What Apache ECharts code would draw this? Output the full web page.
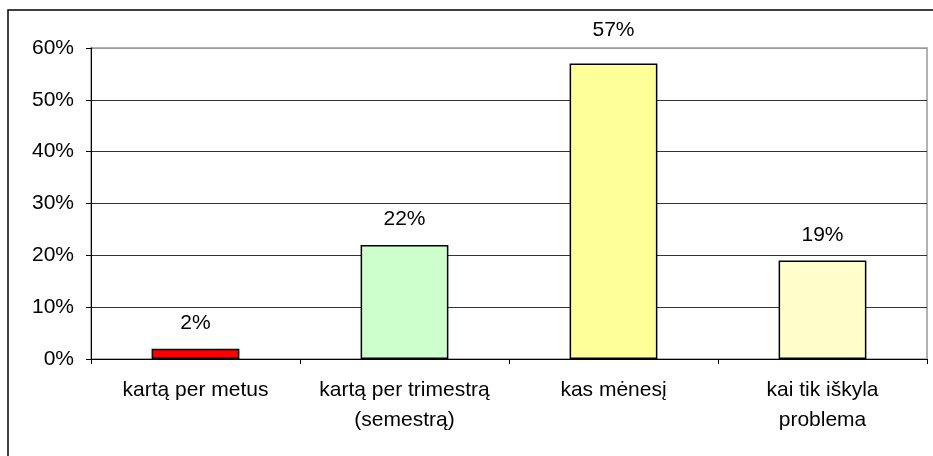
<!DOCTYPE html>
<html>
<head>
<meta charset="utf-8">
<script src="https://cdn.jsdelivr.net/npm/echarts@6/dist/echarts.min.js"></script>
<style>
  html, body { margin: 0; padding: 0; background: #fff; }
  #chart { width: 933px; height: 456px; }
</style>
</head>
<body>
<div id="chart"></div>
<script>
// Survey answers: how often the respondents do it
const categories = ['kartą per metus', 'kartą per trimestrą\n(semestrą)', 'kas mėnesį', 'kai tik iškyla\nproblema'];
const values = [2, 22, 57, 19];
const barColors = ['#FF0000', '#CCFFCC', '#FFFF99', '#FFFFCC'];
const yTicks = [0, 10, 20, 30, 40, 50, 60];

const FONT = '"Liberation Sans", Arial, sans-serif';

const chart = echarts.init(document.getElementById('chart'), null, { renderer: 'canvas' });

chart.setOption({
  animation: false,
  backgroundColor: '#fff',
  textStyle: { fontFamily: FONT },
  grid: {
    left: 91, right: 6, top: 48, bottom: 97,
    show: true, borderColor: '#999', borderWidth: 1.5, backgroundColor: 'transparent'
  },
  graphic: [{
    type: 'rect',
    shape: { x: 8, y: 10, width: 1200, height: 1000 },
    style: { fill: 'none', stroke: '#000', lineWidth: 1.5 },
    silent: true, z: 10
  }],
  xAxis: {
    type: 'category',
    data: categories,
    axisLine: { lineStyle: { color: '#000', width: 1 } },
    axisTick: { show: true, alignWithLabel: false, length: 5, lineStyle: { color: '#000' } },
    axisLabel: {
      color: '#000', fontSize: 21, fontFamily: FONT, lineHeight: 30, margin: 16, interval: 0
    },
    splitLine: { show: false }
  },
  yAxis: {
    type: 'value',
    min: yTicks[0], max: yTicks[yTicks.length - 1], interval: 10,
    axisLine: { show: true, lineStyle: { color: '#000', width: 1 } },
    axisTick: { show: true, length: 5, lineStyle: { color: '#000' } },
    axisLabel: {
      color: '#000', fontSize: 21, fontFamily: FONT, margin: 17,
      formatter: v => v + '%'
    },
    splitLine: {
      show: true,
      lineStyle: { color: ['#333', '#333', '#333', '#333', '#333', '#333', '#999'], width: 1 }
    }
  },
  series: [{
    type: 'bar',
    barWidth: '42%',
    data: values.map((v, i) => ({
      value: v,
      itemStyle: { color: barColors[i] },
      label: i === 2 ? { distance: 23 } : undefined
    })),
    itemStyle: { borderColor: '#000', borderWidth: 1.5 },
    label: {
      show: true, position: 'top', distance: 15,
      color: '#000', fontSize: 21, fontFamily: FONT,
      formatter: p => p.value + '%'
    }
  }]
});
</script>
</body>
</html>
